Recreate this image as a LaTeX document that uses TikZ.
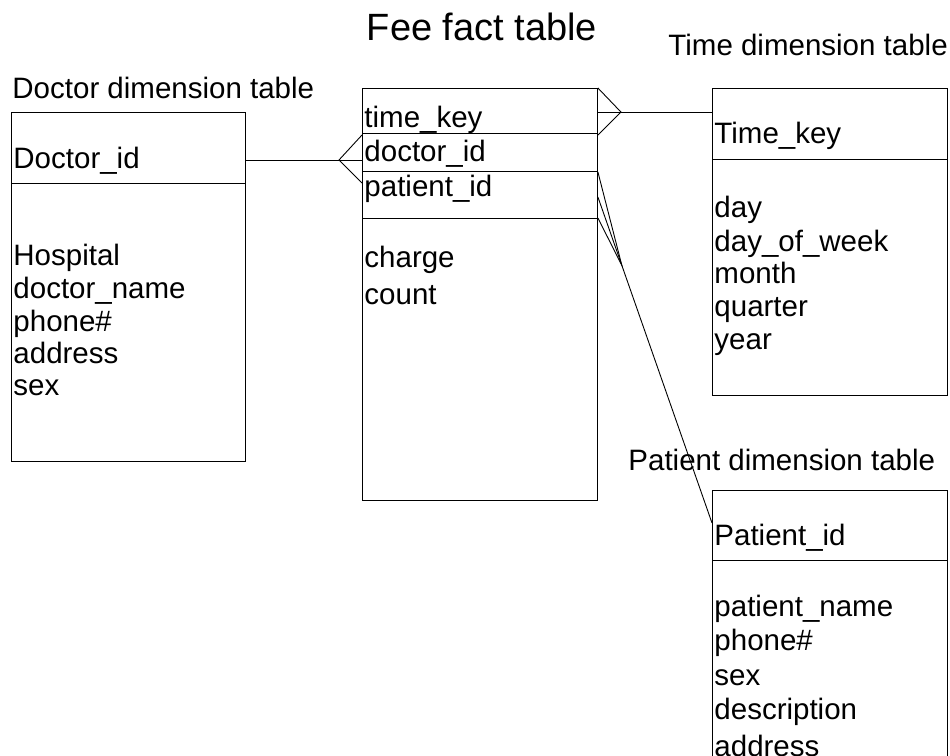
\documentclass[tikz,border=0pt]{standalone}
\usepackage{fontspec}
\setmainfont{Liberation Sans}
\usetikzlibrary{calc}

\begin{document}
\begin{tikzpicture}[x=1pt, y=-1pt, line width=0.9pt,
  every node/.style={inner sep=0pt, font=\fontsize{29.5}{33}\selectfont},
  tablebox/.style={draw, anchor=north west, inner sep=0pt},
  field/.style={anchor=base west},
  caption/.style={anchor=base west}]
\clip (0,0) rectangle (950,755);

% titles
\node[anchor=base, font=\fontsize{38}{42}\selectfont] (feetitle) at (482,40) {Fee fact table};
\node[caption] (doctitle) at (12,98) {Doctor dimension table};
\node[caption] (timetitle) at (668,55) {Time dimension table};
\node[caption] (pattitle) at (628,470) {Patient dimension table};

% doctor dimension table
\node[tablebox, minimum width=234pt, minimum height=349pt] (doctor) at (11,112) {};
\draw ($(doctor.north west)+(0,71)$) -- ($(doctor.north east)+(0,71)$);
\node[field] (docid) at (13,168) {Doctor\_id};
\node[field] (hospital) at (13,265) {Hospital};
\node[field] (docname) at (13,298) {doctor\_name};
\node[field] (docphone) at (13,331) {phone\#};
\node[field] (docaddr) at (13,363) {address};
\node[field] (docsex) at (13,395) {sex};

% fee fact table
\node[tablebox, minimum width=235pt, minimum height=412pt] (fact) at (362,88) {};
\draw ($(fact.north west)+(0,45)$) -- ($(fact.north east)+(0,45)$);
\draw ($(fact.north west)+(0,83)$) -- ($(fact.north east)+(0,83)$);
\draw ($(fact.north west)+(0,130)$) -- ($(fact.north east)+(0,130)$);
\node[field] (timekey) at (364,127) {time\_key};
\node[field] (doctorid) at (364,161) {doctor\_id};
\node[field] (patientid) at (364,196) {patient\_id};
\node[field] (charge) at (364,267) {charge};
\node[field] (count) at (364,304) {count};

% time dimension table
\node[tablebox, minimum width=235pt, minimum height=307pt] (time) at (712,88) {};
\draw ($(time.north west)+(0,71)$) -- ($(time.north east)+(0,71)$);
\node[field] (timeid) at (714,143) {Time\_key};
\node[field] (day) at (714,217) {day};
\node[field] (dayweek) at (714,251) {day\_of\_week};
\node[field] (month) at (714,283) {month};
\node[field] (quarter) at (714,316) {quarter};
\node[field] (year) at (714,349) {year};

% patient dimension table
\node[tablebox, minimum width=235pt, minimum height=320pt] (patient) at (712,490) {};
\draw ($(patient.north west)+(0,70)$) -- ($(patient.north east)+(0,70)$);
\node[field] (patid) at (714,545) {Patient\_id};
\node[field] (patname) at (714,616) {patient\_name};
\node[field] (patphone) at (714,650) {phone\#};
\node[field] (patsex) at (714,685) {sex};
\node[field] (patdesc) at (714,719) {description};
\node[field] (pataddr) at (714,756) {address};

% doctor -- fact
\coordinate (docfoot) at ($(fact.north west)+(-23,72)$);
\draw ($(doctor.north east)+(0,48)$) -- (fact.west |- docfoot);
\draw ($(fact.north west)+(0,47)$) -- (docfoot) -- ($(fact.north west)+(0,95)$);

% time -- fact
\coordinate (timefoot) at ($(fact.north east)+(23,24)$);
\draw ($(fact.north east)+(0,24)$) -- ($(time.north west)+(0,24)$);
\draw (fact.north east) -- (timefoot) -- ($(fact.north east)+(0,47)$);

% patient -- fact
\coordinate (patfrom) at ($(fact.north east)+(0,109)$);
\coordinate (patto) at ($(patient.north west)+(0,33)$);
\coordinate (patfoot) at ($(patfrom)!0.21!(patto)$);
\draw (patfrom) -- (patto);
\draw ($(fact.north east)+(0,84)$) -- (patfoot) -- ($(fact.north east)+(0,130)$);
\end{tikzpicture}
\end{document}
